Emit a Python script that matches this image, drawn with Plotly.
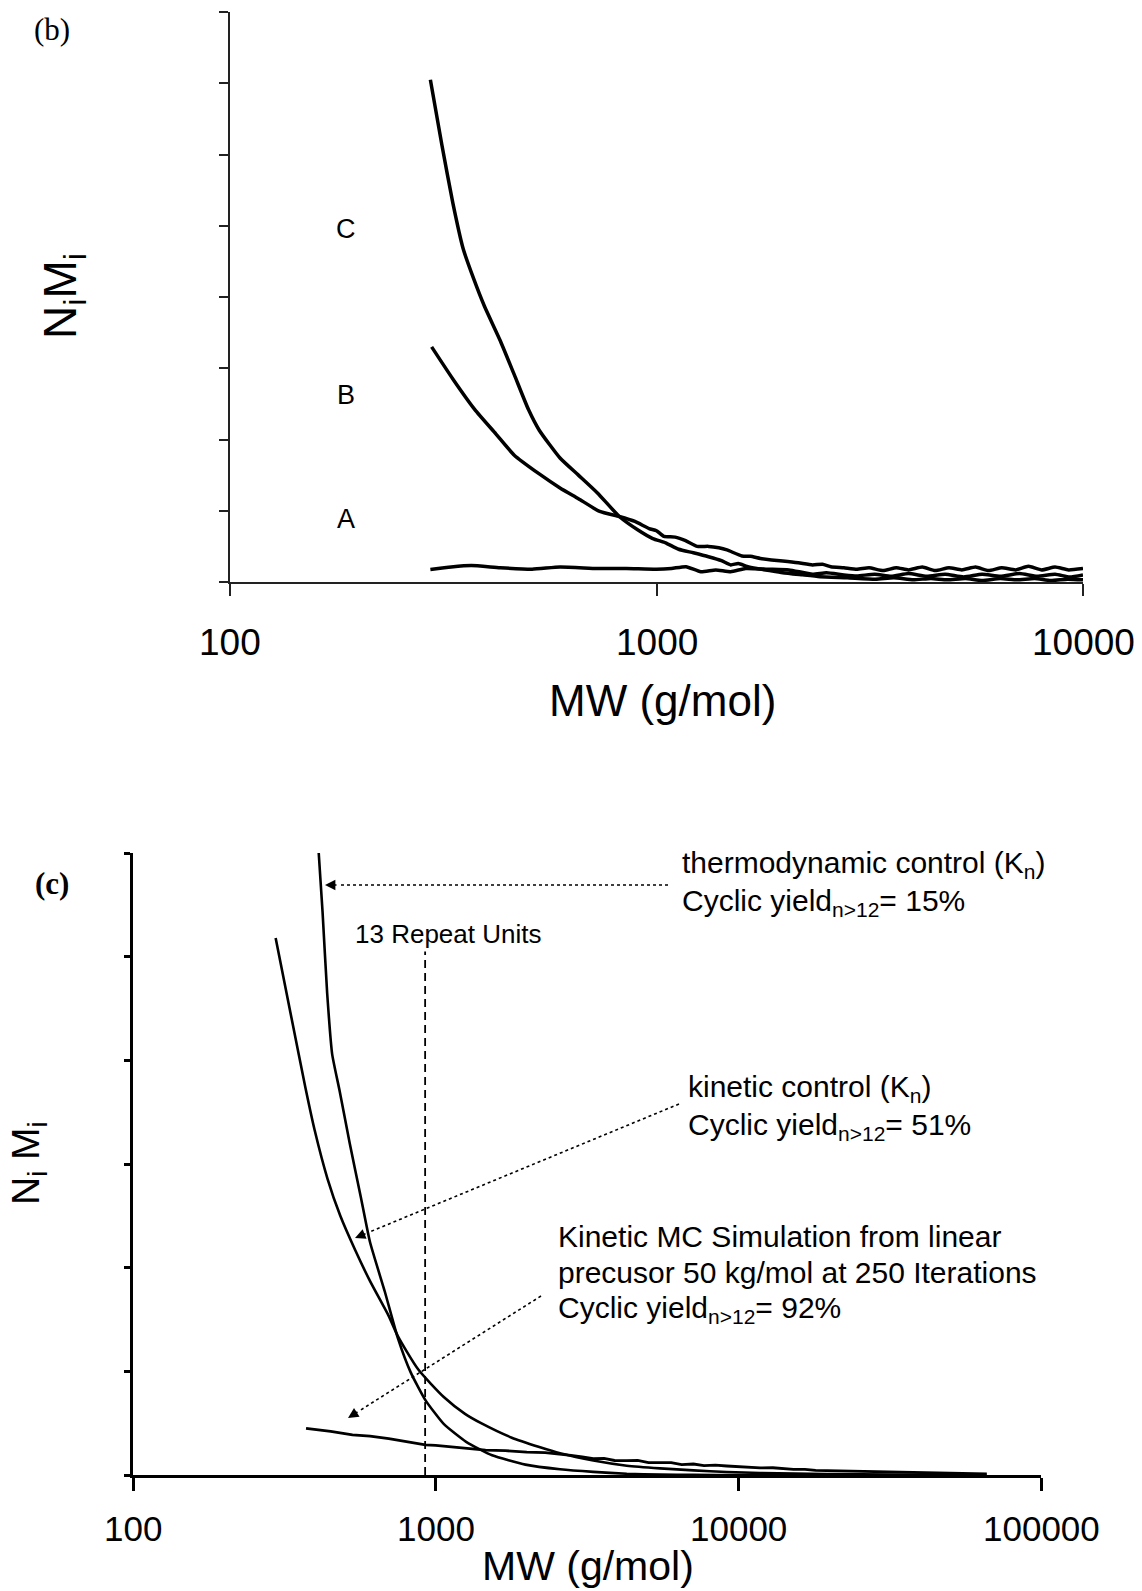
import math
import plotly.graph_objects as go

W, H = 1142, 1591

# ---------------- Panel (b) data ----------------
B_XTICKS = [100, 1000, 10000]
B_XTICK_LABELS = ["100", "1000", "10000"]
B_YTICKS = [0, 1, 2, 3, 4, 5, 6, 7, 8]

b_C_mw = [295, 314, 333, 352, 373, 395, 430, 464, 501, 531, 594, 656, 727, 818, 905, 980, 1050,
          1127, 1220, 1324, 1420, 1493, 1555, 1630, 1718, 1840, 1977, 2200, 2417, 2800, 3263, 3600,
          4000, 4400, 4800, 5300, 5800, 6400, 7000, 7700, 8400, 9200, 10000]
b_C_y = [7.05, 6.13, 5.32, 4.68, 4.25, 3.87, 3.39, 2.91, 2.42, 2.13, 1.74, 1.50, 1.25, 0.92, 0.73,
         0.61, 0.55, 0.46, 0.41, 0.355, 0.30, 0.24, 0.26, 0.22, 0.19, 0.16, 0.13, 0.10, 0.075, 0.06,
         0.04, 0.06, 0.03, 0.05, 0.03, 0.05, 0.02, 0.05, 0.03, 0.05, 0.02, 0.04, 0.03]

b_B_mw = [297, 333, 375, 420, 464, 530, 594, 656, 736, 818, 890, 961, 1000, 1041, 1106, 1170, 1246,
          1324, 1400, 1463, 1586, 1660, 1752, 1860, 1977, 2150, 2321, 2450, 2564, 2750, 2951, 3150,
          3400, 3650, 3900, 4200, 4500, 4850, 5200, 5600, 6000, 6450, 6950, 7450, 8000, 8600, 9250,
          10000]
b_B_y = [3.30, 2.85, 2.42, 2.08, 1.78, 1.52, 1.32, 1.17, 0.99, 0.92, 0.85, 0.75, 0.72, 0.64, 0.63,
         0.58, 0.50, 0.50, 0.48, 0.45, 0.365, 0.36, 0.33, 0.31, 0.295, 0.27, 0.24, 0.25, 0.215, 0.20,
         0.18, 0.20, 0.16, 0.20, 0.17, 0.21, 0.16, 0.20, 0.17, 0.21, 0.16, 0.20, 0.17, 0.22, 0.17,
         0.21, 0.17, 0.19]

b_A_mw = [295, 330, 368, 430, 511, 594, 727, 850, 999, 1084, 1173, 1270, 1377, 1493, 1618, 1824,
          2044, 2321, 2501, 2750, 2951, 3250, 3550, 3900, 4300, 4750, 5250, 5800, 6400, 7100, 7800,
          8600, 9300, 10000]
b_A_y = [0.175, 0.21, 0.23, 0.20, 0.18, 0.21, 0.19, 0.19, 0.18, 0.19, 0.215, 0.145, 0.17, 0.145,
         0.19, 0.18, 0.17, 0.11, 0.13, 0.10, 0.085, 0.11, 0.08, 0.12, 0.08, 0.11, 0.07, 0.11, 0.08,
         0.12, 0.08, 0.11, 0.07, 0.10]

B_CURVE_LABELS = ["C", "B", "A"]
B_CURVE_LABEL_Y = [4.95, 2.62, 0.89]   # label heights in axis units

# ---------------- Panel (c) data ----------------
C_XTICKS = [100, 1000, 10000, 100000]
C_XTICK_LABELS = ["100", "1000", "10000", "100000"]
C_YTICKS = [0, 1, 2, 3, 4, 5, 6]

thermo_mw = [406, 411, 423, 438, 455, 482, 520, 566, 607, 679, 750, 827, 926, 1065, 1261, 1536,
             1979, 2576, 3318, 4280, 5513, 7107, 10000, 20000]
thermo_y = [6.3, 5.99, 5.43, 4.65, 4.06, 3.70, 3.20, 2.68, 2.245, 1.77, 1.32, 0.99, 0.72, 0.49,
            0.32, 0.19, 0.10, 0.055, 0.03, 0.012, 0.004, 0.001, 0.0, 0.0]

kin_mw = [296, 337, 371, 398, 439, 484, 542, 607, 698, 750, 875, 1066, 1250, 1413, 1784, 2200,
          2576, 3318, 4280, 5513, 7107, 9160, 11800, 19610, 32550, 66000]
kin_y = [5.18, 4.35, 3.74, 3.33, 2.86, 2.50, 2.17, 1.87, 1.54, 1.34, 1.02, 0.75, 0.59, 0.50, 0.36,
         0.27, 0.21, 0.14, 0.09, 0.064, 0.045, 0.029, 0.02, 0.01, 0.004, 0.0]

mc_mw = [373, 450, 531, 607, 700, 827, 925, 1000, 1100, 1250, 1461, 1700, 2000, 2300, 2576, 2800,
         3050, 3318, 3600, 3900, 4280, 4650, 5050, 5513, 6000, 6500, 7107, 7700, 8400, 9160, 10000,
         10900, 11800, 13000, 14000, 15210, 16600, 18000, 19610, 21500, 23300, 25260, 27500, 30000,
         32550, 35500, 38500, 41970, 45500, 49500, 54080, 59000, 66220]
mc_y = [0.45, 0.42, 0.386, 0.376, 0.35, 0.316, 0.29, 0.285, 0.275, 0.26, 0.24, 0.235, 0.22, 0.215,
        0.203, 0.19, 0.175, 0.158, 0.16, 0.14, 0.138, 0.14, 0.12, 0.119, 0.12, 0.10, 0.106, 0.09,
        0.095, 0.087, 0.08, 0.075, 0.068, 0.07, 0.06, 0.055, 0.055, 0.045, 0.042, 0.04, 0.036,
        0.035, 0.032, 0.03, 0.029, 0.026, 0.025, 0.023, 0.02, 0.019, 0.016, 0.013, 0.01]

REPEAT_MW = 923
REPEAT_TOP = 5.05

# ---------------- helpers ----------------
def px(x):
    return x / W


def py(y):
    return 1 - y / H


SANS = "Liberation Sans, Arial, sans-serif"
SERIF = "Liberation Serif, Times New Roman, serif"
INK = "#000000"

fig = go.Figure()

for mw, yv in [(b_C_mw, b_C_y), (b_B_mw, b_B_y), (b_A_mw, b_A_y)]:
    fig.add_trace(go.Scatter(x=mw, y=yv, mode="lines", xaxis="x", yaxis="y",
                             line=dict(color=INK, width=3.5, shape="spline", smoothing=0.5),
                             showlegend=False, hoverinfo="skip"))

fig.add_trace(go.Scatter(x=thermo_mw, y=thermo_y, mode="lines", xaxis="x2", yaxis="y2",
                         line=dict(color=INK, width=2.6, shape="spline", smoothing=0.5),
                         showlegend=False, hoverinfo="skip"))
fig.add_trace(go.Scatter(x=kin_mw, y=kin_y, mode="lines", xaxis="x2", yaxis="y2",
                         line=dict(color=INK, width=2.6, shape="spline", smoothing=0.6),
                         showlegend=False, hoverinfo="skip"))
fig.add_trace(go.Scatter(x=mc_mw, y=mc_y, mode="lines", xaxis="x2", yaxis="y2",
                         line=dict(color=INK, width=2.8),
                         showlegend=False, hoverinfo="skip"))
fig.add_trace(go.Scatter(x=[REPEAT_MW, REPEAT_MW], y=[0, REPEAT_TOP], mode="lines",
                         xaxis="x2", yaxis="y2",
                         line=dict(color=INK, width=1.8, dash="8px,5px"),
                         showlegend=False, hoverinfo="skip"))

ann = []


def label(text, x, y, size, family=SANS, xref="paper", yref="paper", xanchor="center",
          angle=0):
    ann.append(dict(text=text, x=x, y=y, xref=xref, yref=yref, showarrow=False,
                    xanchor=xanchor, yanchor="middle", textangle=angle,
                    font=dict(family=family, size=size, color=INK)))


# panel (b) text
label("(b)", px(52), py(29), 31, family=SERIF)
for lab, ly in zip(B_CURVE_LABELS, B_CURVE_LABEL_Y):
    label(lab, px(346), ly, 27, yref="y")
for v, t in zip(B_XTICKS, B_XTICK_LABELS):
    label(t, math.log10(v), py(642), 37, xref="x")
label("MW (g/mol)", px(662), py(700), 44)
label("N<sub>i</sub>M<sub>i</sub>", px(63), py(296), 46, angle=-90)

# panel (c) text
label("<b>(c)</b>", px(52), py(883), 31, family=SERIF)
for v, t in zip(C_XTICKS, C_XTICK_LABELS):
    label(t, math.log10(v), py(1528), 35, xref="x2")
label("MW (g/mol)", px(588), py(1566), 41)
label("N<sub>i</sub> M<sub>i</sub>", px(28), py(1163), 39, angle=-90)
label("13 Repeat Units", px(448), py(934), 26)

text_lines = [
    ("thermodynamic control (K<sub>n</sub>)", 680, 864),
    ("Cyclic yield<sub>n&gt;12</sub>= 15%", 680, 902),
    ("kinetic control (K<sub>n</sub>)", 686, 1088),
    ("Cyclic yield<sub>n&gt;12</sub>= 51%", 686, 1126),
    ("Kinetic MC Simulation from linear", 556, 1236),
    ("precusor 50 kg/mol at 250 Iterations", 556, 1272),
    ("Cyclic yield<sub>n&gt;12</sub>= 92%", 556, 1309),
]
for t, lx, ly in text_lines:
    label(t, px(lx), py(ly), 30, xanchor="left")

# dotted pointer arrows (tail -> head), in page pixels
arrows = [((668, 885), (325, 885)), ((679, 1104), (355, 1238)), ((541, 1296), (348, 1418))]
shapes = []
for (tx, ty), (hx, hy) in arrows:
    dx, dy = tx - hx, ty - hy
    d = math.hypot(dx, dy)
    ux, uy = dx / d, dy / d
    L = 13
    shapes.append(dict(type="line", xref="paper", yref="paper", x0=px(tx), y0=py(ty),
                       x1=px(hx + ux * L), y1=py(hy + uy * L),
                       line=dict(color=INK, width=1.6, dash="dot")))
    ann.append(dict(text="", x=px(hx), y=py(hy), xref="paper", yref="paper", showarrow=True,
                    ax=ux * L, ay=uy * L, axref="pixel", ayref="pixel", arrowhead=2,
                    arrowsize=1.3, arrowwidth=1.6, arrowcolor=INK, standoff=0))

axis_common = dict(showgrid=False, zeroline=False, showticklabels=False, ticks="outside")

fig.update_layout(
    width=W, height=H, margin=dict(l=0, r=0, t=0, b=0),
    paper_bgcolor="white", plot_bgcolor="white", showlegend=False,
    xaxis=dict(type="log", range=[2, 4], domain=[px(230), px(1083)], anchor="y",
               showline=True, linecolor="#222", linewidth=1.5, ticklen=12, tickwidth=1.5,
               tickcolor="#222", tickvals=B_XTICKS, **axis_common),
    yaxis=dict(range=[0, 8], domain=[py(582), py(12)], anchor="x",
               showline=True, linecolor="#222", linewidth=1.5, ticklen=9, tickwidth=1.5,
               tickcolor="#222", tickvals=B_YTICKS, **axis_common),
    xaxis2=dict(type="log", range=[2, 5], domain=[px(133), px(1041)], anchor="y2",
                showline=True, linecolor=INK, linewidth=3, ticklen=13, tickwidth=3,
                tickcolor=INK, tickvals=C_XTICKS, **axis_common),
    yaxis2=dict(range=[0, 6], domain=[py(1475), py(853)], anchor="x2",
                showline=True, linecolor=INK, linewidth=3, ticklen=6, tickwidth=3,
                tickcolor=INK, tickvals=C_YTICKS, **axis_common),
    annotations=ann, shapes=shapes,
)

fig.write_html("out.html")
